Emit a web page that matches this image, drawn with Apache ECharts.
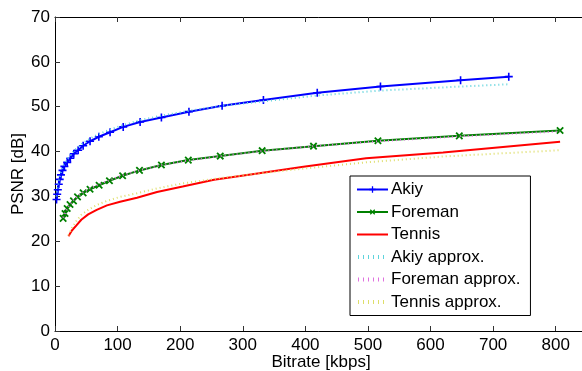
<!DOCTYPE html>
<html>
<head>
<meta charset="utf-8">
<script src="https://cdn.jsdelivr.net/npm/echarts@6/dist/echarts.min.js"></script>
<style>
  html, body { margin: 0; padding: 0; background: #fff; }
  #chart { width: 582px; height: 371px; }
</style>
</head>
<body>
<div id="chart"></div>
<script>
// values
var akiyRate = [2.5, 3.5, 4.5, 6, 7.5, 9.5, 12, 15, 19.5, 24.5, 30, 37, 45, 56, 70, 88, 109, 136, 170, 214, 267, 333, 419, 520, 648, 725];
var akiyPsnr = [29.3, 30.5, 31.5, 32.7, 33.8, 34.8, 35.8, 36.7, 37.6, 38.5, 39.5, 40.3, 41.3, 42.3, 43.3, 44.3, 45.5, 46.6, 47.6, 48.9, 50.2, 51.5, 53.1, 54.5, 55.9, 56.7];
var akiyApprox = [30.0, 31.2, 32.2, 33.4, 34.4, 35.4, 36.4, 37.3, 38.3, 39.2, 40.1, 41.0, 41.9, 42.9, 43.9, 44.9, 45.9, 47.0, 48.0, 49.1, 50.2, 51.2, 52.5, 53.6, 54.5, 55.0];

var foremanRate = [13, 16, 19.5, 24, 29.5, 36, 45, 56, 70.5, 87, 108, 135, 170, 213, 264, 331, 413, 516, 646, 807];
var foremanPsnr = [25.1, 26.2, 27.3, 28.2, 29.0, 29.9, 30.8, 31.6, 32.5, 33.5, 34.6, 35.8, 37.0, 38.1, 39.0, 40.2, 41.2, 42.4, 43.5, 44.7];
var foremanApprox = [25.3, 26.3, 27.3, 28.3, 29.2, 30.0, 30.9, 31.8, 32.7, 33.6, 34.7, 35.8, 37.0, 38.0, 39.0, 40.1, 41.2, 42.3, 43.4, 44.5];

var tennisRate = [21.5, 27, 34.6, 42, 53, 66.6, 83, 104, 131, 163, 204, 254, 318, 397, 497, 620, 807];
var tennisPsnr = [21.1, 22.4, 23.6, 24.8, 26.0, 27.0, 28.0, 28.8, 29.7, 31.0, 32.2, 33.7, 35.0, 36.6, 38.5, 39.8, 42.2];
var tennisApprox = [21.3, 23.0, 24.6, 25.9, 27.0, 28.1, 29.0, 29.9, 30.7, 31.8, 32.9, 33.9, 35.0, 36.2, 37.6, 38.9, 40.3];

var xTicks = [0, 100, 200, 300, 400, 500, 600, 700, 800];
var yTicks = [0, 10, 20, 30, 40, 50, 60, 70];

function pairs(xs, ys) {
    return xs.map(function (x, i) { return [x, ys[i]]; });
}

var plusPath = 'path://M0,4H10V6H0Z M4,0H6V10H4Z';
var font = 'Liberation Sans, Arial, sans-serif';
var dots = [1, 3];

// legend icons (31x8 box): tiny corner specks fix the bounding box
var corners = 'M0,0h0.01v0.01h-0.01Z M30.99,7.99h0.01v0.01h-0.01Z ';
var solidIcon = 'path://' + corners + 'M0,3H31V5H0Z';
var dottedIcon = 'path://' + corners +
    'M1,2h1v4h-1Z M6,2h1v4h-1Z M11,2h1v4h-1Z M16,2h1v4h-1Z M21,2h1v4h-1Z M26,2h1v4h-1Z';

var myChart = echarts.init(document.getElementById('chart'), null, { renderer: 'canvas' });

function solid(name, color, data, symbol, rotate, size) {
    return {
        name: name,
        type: 'line',
        data: data,
        symbol: symbol,
        symbolRotate: rotate,
        symbolSize: size,
        showSymbol: symbol !== 'none',
        itemStyle: { color: color },
        lineStyle: { color: color, width: 2 },
        z: 3
    };
}

function dotted(name, color, data) {
    return {
        name: name,
        type: 'line',
        data: data,
        symbol: 'none',
        itemStyle: { color: color },
        lineStyle: { color: color, width: 2, type: dots },
        z: 4
    };
}

var axisBase = {
    type: 'value',
    splitLine: { show: false },
    axisLine: { show: true, onZero: false, lineStyle: { color: '#000', width: 1 } },
    axisTick: { show: true, inside: true, length: 5, lineStyle: { color: '#333' } }
};

var option = {
    animation: false,
    backgroundColor: '#fff',
    textStyle: { fontFamily: font },
    grid: { left: 55, top: 17, width: 532, height: 314, containLabel: false, outerBoundsMode: 'none' },
    xAxis: [
        Object.assign({}, axisBase, {
            min: 0, max: 850, interval: 100,
            name: 'Bitrate [kbps]',
            nameLocation: 'middle',
            nameGap: 23,
            nameMoveOverlap: false,
            nameTextStyle: { fontSize: 17, color: '#000', fontFamily: font },
            axisLabel: {
                fontSize: 17, color: '#000', margin: 6, fontFamily: font,
                showMaxLabel: false,
                formatter: function (v) { return xTicks.indexOf(v) >= 0 ? String(v) : ''; }
            }
        }),
        Object.assign({}, axisBase, {
            position: 'top', min: 0, max: 850, interval: 100,
            axisLabel: { show: false }
        })
    ],
    yAxis: [
        Object.assign({}, axisBase, {
            min: 0, max: 70, interval: 10,
            name: 'PSNR [dB]',
            nameLocation: 'middle',
            nameGap: 28,
            nameMoveOverlap: false,
            nameTextStyle: { fontSize: 17, color: '#000', fontFamily: font },
            axisLabel: {
                fontSize: 17, color: '#000', margin: 5, fontFamily: font,
                formatter: function (v) { return yTicks.indexOf(v) >= 0 ? String(v) : ''; }
            }
        }),
        Object.assign({}, axisBase, {
            position: 'right', min: 0, max: 70, interval: 10,
            axisLabel: { show: false }
        })
    ],
    legend: {
        orient: 'vertical',
        left: 350,
        top: 176,
        padding: [5, 10, 5, 6],
        itemGap: 5.5,
        itemWidth: 31,
        itemHeight: 8,
        backgroundColor: '#fff',
        borderColor: '#000',
        borderWidth: 1,
        borderRadius: 0,
        textStyle: { fontSize: 17, color: '#000', fontFamily: font, padding: [0, 0, 0, -2] },
        data: [
            { name: 'Akiy' },
            { name: 'Foreman' },
            { name: 'Tennis', icon: solidIcon },
            { name: 'Akiy approx.', icon: dottedIcon },
            { name: 'Foreman approx.', icon: dottedIcon },
            { name: 'Tennis approx.', icon: dottedIcon }
        ]
    },
    series: [
        solid('Akiy', '#0000ff', pairs(akiyRate, akiyPsnr), plusPath, 0, 8),
        solid('Foreman', '#008000', pairs(foremanRate, foremanPsnr), plusPath, 45, 9),
        solid('Tennis', '#ff0000', pairs(tennisRate, tennisPsnr), 'none', 0, 0),
        dotted('Akiy approx.', '#5fd3dc', pairs(akiyRate, akiyApprox)),
        dotted('Foreman approx.', '#e070e0', pairs(foremanRate, foremanApprox)),
        dotted('Tennis approx.', '#dede6a', pairs(tennisRate, tennisApprox))
    ]
};

myChart.setOption(option);
</script>
</body>
</html>
